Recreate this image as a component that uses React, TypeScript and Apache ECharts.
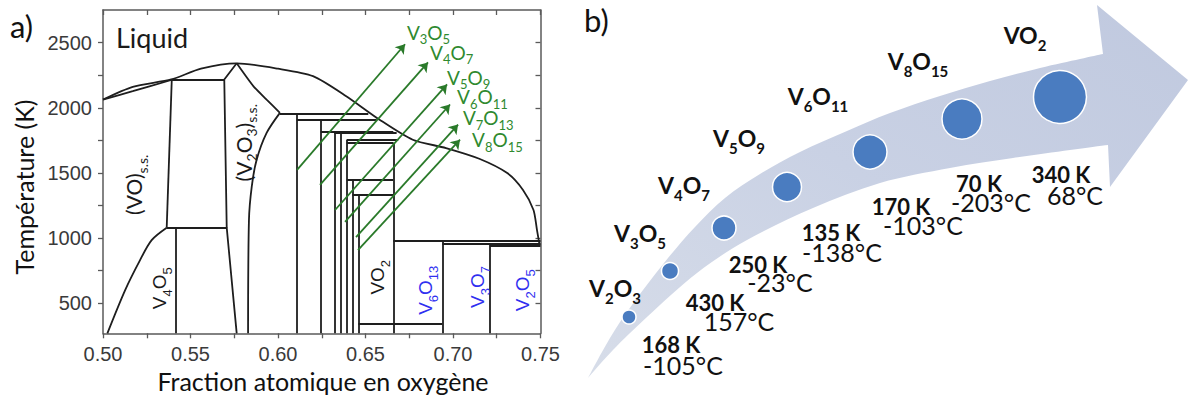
import React, { useEffect, useRef } from 'react';
import * as echarts from 'echarts';

// ---------------- Panel a : V–O phase diagram ----------------
const xLabelValues = [0.5, 0.55, 0.6, 0.65, 0.7, 0.75];
const xTickValues = [0.5, 0.525, 0.55, 0.575, 0.6, 0.625, 0.65, 0.675, 0.7, 0.725, 0.75];
const yLabelValues = [500, 1000, 1500, 2000, 2500];
const yTickValues = [500, 750, 1000, 1250, 1500, 1750, 2000, 2250, 2500];
const T_MIN = 270;
const T_MAX = 2750;

const liquidus = [
  [0.5, 2063], [0.517, 2161], [0.539, 2217], [0.556, 2300], [0.5764, 2341], [0.6, 2300],
  [0.62, 2243], [0.639, 2089], [0.658, 1909], [0.677, 1755], [0.696, 1691], [0.715, 1609],
  [0.731, 1499], [0.74, 1370], [0.746, 1216], [0.748, 1062], [0.7495, 945],
];
const voSolidus = [[0.5, 2063], [0.517, 2127], [0.539, 2213]];
const voLower = [[0.5364, 1080], [0.5278, 985], [0.5211, 830], [0.5126, 600], [0.5025, 270]];
const v2o3RightUpper = [[0.5764, 2341], [0.5859, 2166], [0.5935, 2063], [0.6011, 1961]];
const v2o3RightLower = [[0.6011, 1961], [0.5935, 1807], [0.5878, 1601], [0.585, 1396], [0.5834, 1139], [0.5829, 270]];
const v2o3Left = [[0.5764, 2341], [0.5693, 2217], [0.5707, 1080], [0.5764, 270]];
const voRight = [[0.5393, 2217], [0.5364, 1080]];

// horizontal boundaries: [T, xFrom, xTo]
const horizontals = [
  [2217, 0.5393, 0.5693], [1080, 0.5364, 0.5707], [1955, 0.6011, 0.6516], [1909, 0.6107, 0.6564],
  [1819, 0.6244, 0.6659], [1807, 0.6322, 0.6678], [1755, 0.6393, 0.6687], [1734, 0.6393, 0.6659],
  [1447, 0.6393, 0.6659], [1332, 0.6425, 0.6659], [344, 0.6459, 0.6939], [980, 0.6659, 0.75],
  [960, 0.6939, 0.75], [939, 0.7211, 0.75],
];
// vertical boundaries: [x, Ttop, Tbottom]
const verticals = [
  [0.5417, 1080, 270], [0.6107, 1955, 270], [0.6244, 1909, 270], [0.6322, 1819, 270],
  [0.6358, 1807, 270], [0.6393, 1755, 270], [0.6425, 1447, 270], [0.6459, 1332, 270],
  [0.6659, 1734, 270], [0.6939, 980, 270], [0.7211, 960, 270],
];

const magneliNames = ['V3O5', 'V4O7', 'V5O9', 'V6O11', 'V7O13', 'V8O15'];
const magneliStart = [[0.6109, 1524], [0.624, 1409], [0.6326, 1216], [0.6383, 1124], [0.6446, 1008], [0.6457, 908]];
const magneliEnd = [[0.6726, 2487], [0.6857, 2348], [0.6966, 2179], [0.6983, 2025], [0.7029, 1871], [0.704, 1755]];
const magneliLabelAt = [[0.6737, 2564], [0.6869, 2410], [0.6966, 2217], [0.7023, 2071], [0.7057, 1909], [0.7109, 1739]];

// region labels: [text, x, T, rotate, colour key]
const regionLabels: [string, number, number, number, string][] = [
  ['(VO)', 0.5189, 1409, 90, 'k'],
  ['(V2O3)', 0.5817, 1732, 90, 'k'],
  ['V4O5', 0.5337, 616, 90, 'a'],
  ['VO2', 0.6583, 700, 90, 'a'],
  ['V6O13', 0.6857, 600, 90, 'b'],
  ['V3O7', 0.7154, 625, 90, 'b'],
  ['V2O5', 0.7411, 600, 90, 'b'],
];

// ---------------- Panel b : transition temperatures ----------------
const oxides = ['V2O3', 'V3O5', 'V4O7', 'V5O9', 'V6O11', 'V8O15', 'VO2'];
const transitionK = [168, 430, 250, 135, 170, 70, 340];
const transitionC = [-105, 157, -23, -138, -103, -203, 68];

// schematic layout of panel b (pixels)
const bubblePos = [[629, 317], [670, 271], [724, 228], [787, 187], [870, 152], [962, 119], [1060, 97]];
const bubbleDiam = [14, 17, 24, 29, 34, 40, 53];
const formulaPos = [[615, 291], [640, 236], [684, 188], [739, 141], [818, 99], [918, 64], [1025, 38]];
const kelvinPos = [[671, 344], [715, 302], [758, 264], [831, 232], [901, 206], [979, 183], [1061, 174]];
const celsiusPos = [[683, 365], [739, 321], [780, 282], [842, 252], [923, 225], [991, 202], [1075, 195]];

const arrowUpper = [[588, 378], [602, 352], [620, 322], [643, 290], [668, 258], [695, 227], [725, 198], [760, 174], [800, 152], [847, 131], [890, 113], [940, 96], [990, 81], [1040, 68], [1080, 59], [1103, 54]];
const arrowHead = [[1097, 5], [1188, 80], [1110, 187]];
const arrowLower = [[1108, 145], [1070, 150], [1013, 158], [950, 168], [880, 183], [813, 208], [747, 240], [697, 273], [647, 317], [613, 350], [588, 378]];

function spline(pts: number[][]) {
  let d = '';
  for (let i = 0; i < pts.length - 1; i++) {
    const p0 = pts[i - 1] || pts[i];
    const p1 = pts[i];
    const p2 = pts[i + 1];
    const p3 = pts[i + 2] || p2;
    const c1x = p1[0] + (p2[0] - p0[0]) / 6;
    const c1y = p1[1] + (p2[1] - p0[1]) / 6;
    const c2x = p2[0] - (p3[0] - p1[0]) / 6;
    const c2y = p2[1] - (p3[1] - p1[1]) / 6;
    d += ` C ${c1x.toFixed(2)} ${c1y.toFixed(2)} ${c2x.toFixed(2)} ${c2y.toFixed(2)} ${p2[0]} ${p2[1]}`;
  }
  return d;
}
const arrowPathD =
  `M ${arrowUpper[0][0]} ${arrowUpper[0][1]}` +
  spline(arrowUpper) +
  arrowHead.map((p) => ` L ${p[0]} ${p[1]}`).join('') +
  ` L ${arrowLower[0][0]} ${arrowLower[0][1]}` +
  spline(arrowLower) +
  ' Z';
echarts.graphic.registerShape('bigArrow', echarts.graphic.extendPath(arrowPathD, {}) as any);

const toRich = (txt: string, n: string, s: string) =>
  txt
    .split(/(\d+)/)
    .map((p, i) => (p === '' ? '' : i % 2 ? `{${s}|${p}}` : `{${n}|${p}}`))
    .join('');

const CAL = 'Lato, "Open Sans", sans-serif';
const ARIAL = '"Liberation Sans", Arial, sans-serif';
const LINE = '#1e1e1e';
const AXIS = '#5a5a5a';
const GREEN_LINE = '#2a7a2a';
const GREEN_TEXT = '#2f8a2f';
const BLUE_TEXT = '#2f2ff0';

export default function App() {
  const ref = useRef<HTMLDivElement>(null);
  useEffect(() => {
    if (!ref.current) return;
    const chart = echarts.init(ref.current, undefined, { renderer: 'svg' });

    const curve = (data: number[][], smooth: number | boolean) => ({
      type: 'line', xAxisIndex: 0, yAxisIndex: 0, data, smooth, symbol: 'none', showSymbol: false,
      silent: true, lineStyle: { color: LINE, width: 1.8 }, z: 3,
    });
    const segs = [
      ...horizontals.map((h) => [[h[1], h[0]], [h[2], h[0]]]),
      ...verticals.map((v) => [[v[0], v[1]], [v[0], v[2]]]),
    ];

    const main = (family: string, size: number, color: string, lh: number) => ({
      fontFamily: family, fontSize: size, color, lineHeight: lh, verticalAlign: 'top',
    });
    const sub = (family: string, size: number, color: string) => ({
      fontFamily: family, fontSize: size, color, lineHeight: size, verticalAlign: 'bottom',
    });
    const richA = {
      k: main(CAL, 21, '#1a1a1a', 26),
      ks: sub(CAL, 14, '#1a1a1a'),
      a: main(ARIAL, 19, '#1a1a1a', 24),
      as: sub(ARIAL, 13, '#1a1a1a'),
      b: main(ARIAL, 19, BLUE_TEXT, 24),
      bs: sub(ARIAL, 13, BLUE_TEXT),
      g: main(CAL, 19, GREEN_TEXT, 23),
      gs: sub(CAL, 13, GREEN_TEXT),
      liq: { fontFamily: CAL, fontSize: 27, color: '#1a1a1a', lineHeight: 28 },
    };
    const richB = {
      n: { fontFamily: CAL, fontSize: 23, fontWeight: 'bold', color: '#111', lineHeight: 29, verticalAlign: 'top' },
      s: { fontFamily: CAL, fontSize: 15, fontWeight: 'bold', color: '#111', lineHeight: 15, verticalAlign: 'bottom' },
    };
    const clear = { color: 'rgba(0,0,0,0)', opacity: 1 };

    const option: any = {
      animation: false,
      backgroundColor: '#ffffff',
      grid: [
        { left: 103, top: 10, width: 437.5, height: 323.3 },
        { left: 0, top: 0, width: 1188, height: 398 },
      ],
      xAxis: [
        {
          gridIndex: 0, type: 'value', min: 0.5, max: 0.75, position: 'bottom',
          axisLine: { lineStyle: { color: AXIS, width: 1.5 } },
          axisTick: { customValues: xTickValues, length: 5, lineStyle: { color: AXIS, width: 1.3 } },
          axisLabel: {
            customValues: xLabelValues, formatter: (v: number) => v.toFixed(2),
            fontFamily: ARIAL, fontSize: 20, color: '#3a3a3a', margin: 11,
          },
          splitLine: { show: false },
        },
        {
          gridIndex: 0, type: 'value', min: 0.5, max: 0.75, position: 'top',
          axisLine: { lineStyle: { color: AXIS, width: 1.5 } },
          axisTick: { customValues: xTickValues, inside: true, length: 5, lineStyle: { color: AXIS, width: 1.3 } },
          axisLabel: { show: false }, splitLine: { show: false },
        },
        { gridIndex: 1, type: 'value', min: 0, max: 1188, show: false },
      ],
      yAxis: [
        {
          gridIndex: 0, type: 'value', min: T_MIN, max: T_MAX, position: 'left',
          axisLine: { show: true, lineStyle: { color: AXIS, width: 1.5 } },
          axisTick: { show: true, customValues: yTickValues, length: 5, lineStyle: { color: AXIS, width: 1.3 } },
          axisLabel: {
            customValues: yLabelValues, formatter: (v: number) => String(v),
            fontFamily: ARIAL, fontSize: 20, color: '#3a3a3a', margin: 11,
          },
          splitLine: { show: false },
        },
        {
          gridIndex: 0, type: 'value', min: T_MIN, max: T_MAX, position: 'right',
          axisLine: { show: true, lineStyle: { color: AXIS, width: 1.5 } },
          axisTick: { show: true, customValues: yTickValues, inside: true, length: 5, lineStyle: { color: AXIS, width: 1.3 } },
          axisLabel: { show: false }, splitLine: { show: false },
        },
        { gridIndex: 1, type: 'value', min: 0, max: 398, inverse: true, show: false },
      ],
      graphic: {
        elements: [
          {
            type: 'bigArrow', x: 0, y: 0, z: 0, silent: true,
            style: {
              fill: new echarts.graphic.LinearGradient(0, 1, 1, 0, [
                { offset: 0, color: '#d7dde9' },
                { offset: 0.5, color: '#c9d1e4' },
                { offset: 1, color: '#c0c9df' },
              ]),
            },
          },
          {
            type: 'text', x: 10, y: 26, z: 50, silent: true,
            style: { text: 'a)', font: `31px ${CAL}`, fill: '#111', align: 'left', verticalAlign: 'middle' },
          },
          {
            type: 'text', x: 584, y: 20, z: 50, silent: true,
            style: { text: 'b)', font: `31px ${CAL}`, fill: '#111', align: 'left', verticalAlign: 'middle' },
          },
          {
            type: 'text', x: 24, y: 187, rotation: Math.PI / 2, z: 50, silent: true,
            style: { text: 'Température (K)', font: `25px ${CAL}`, fill: '#111', align: 'center', verticalAlign: 'middle' },
          },
          {
            type: 'text', x: 323, y: 381, z: 50, silent: true,
            style: { text: 'Fraction atomique en oxygène', font: `25px ${CAL}`, fill: '#111', align: 'center', verticalAlign: 'middle' },
          },
        ],
      },
      series: [
        curve(liquidus, 0.25),
        curve(voSolidus, 0.3),
        curve(voLower, 0.3),
        curve(v2o3RightUpper, 0.2),
        curve(v2o3RightLower, 0.3),
        curve(v2o3Left, false),
        curve(voRight, false),
        {
          type: 'lines', coordinateSystem: 'cartesian2d', xAxisIndex: 0, yAxisIndex: 0, silent: true, z: 3,
          data: segs.map((c) => ({ coords: c })),
          lineStyle: { color: LINE, width: 1.8, opacity: 1, curveness: 0 },
        },
        {
          type: 'lines', coordinateSystem: 'cartesian2d', xAxisIndex: 0, yAxisIndex: 0, silent: true, z: 4,
          symbol: ['none', 'arrow'], symbolSize: 9,
          data: magneliStart.map((s, i) => ({ coords: [s, magneliEnd[i]] })),
          lineStyle: { color: GREEN_LINE, width: 1.8, opacity: 1 },
        },
        {
          type: 'scatter', xAxisIndex: 0, yAxisIndex: 0, silent: true, symbolSize: 0, z: 5,
          itemStyle: clear,
          label: { show: true, position: 'inside', align: 'left', rich: richA },
          data: [
            ...magneliNames.map((nm, i) => ({
              value: magneliLabelAt[i],
              label: { formatter: toRich(nm, 'g', 'gs') },
            })),
            { value: [0.5074, 2541], label: { formatter: '{liq|Liquid}' } },
          ],
        },
        {
          type: 'scatter', xAxisIndex: 0, yAxisIndex: 0, silent: true, symbolSize: 0, z: 5,
          itemStyle: clear,
          label: { show: true, position: 'inside', rich: richA },
          data: regionLabels.map((r) => ({
            value: [r[1], r[2]],
            label: {
              rotate: r[3],
              formatter: toRich(r[0], r[4], r[4] + 's') + (r[4] === 'k' ? '{ks|s.s.}' : ''),
            },
          })),
        },
        // ---- panel b ----
        {
          type: 'scatter', xAxisIndex: 2, yAxisIndex: 2, silent: true, z: 6,
          data: bubblePos.map((p, i) => ({ value: p, symbolSize: bubbleDiam[i], name: oxides[i] })),
          itemStyle: { color: '#4a7cc0', borderColor: '#ffffff', borderWidth: 1.5, opacity: 1 },
        },
        {
          type: 'scatter', xAxisIndex: 2, yAxisIndex: 2, silent: true, symbolSize: 0, z: 7,
          itemStyle: clear,
          label: { show: true, position: 'inside', rich: richB },
          data: oxides.map((o, i) => ({ value: formulaPos[i], label: { formatter: toRich(o, 'n', 's') } })),
        },
        {
          type: 'scatter', xAxisIndex: 2, yAxisIndex: 2, silent: true, symbolSize: 0, z: 7,
          itemStyle: clear,
          label: {
            show: true, position: 'inside', fontFamily: CAL, fontSize: 22, fontWeight: 'bold', color: '#111', lineHeight: 18,
          },
          data: transitionK.map((k, i) => ({ value: kelvinPos[i], label: { formatter: `${k} K` } })),
        },
        {
          type: 'scatter', xAxisIndex: 2, yAxisIndex: 2, silent: true, symbolSize: 0, z: 7,
          itemStyle: clear,
          label: { show: true, position: 'inside', fontFamily: CAL, fontSize: 25, color: '#111', lineHeight: 20 },
          data: transitionC.map((c, i) => ({ value: celsiusPos[i], label: { formatter: `${c}°C` } })),
        },
      ],
    };
    chart.setOption(option);
    return () => chart.dispose();
  }, []);
  return (
    <div
      ref={ref}
      style={{ position: 'fixed', left: 0, top: 0, width: 1188, height: 398, background: '#fff' }}
    />
  );
}
